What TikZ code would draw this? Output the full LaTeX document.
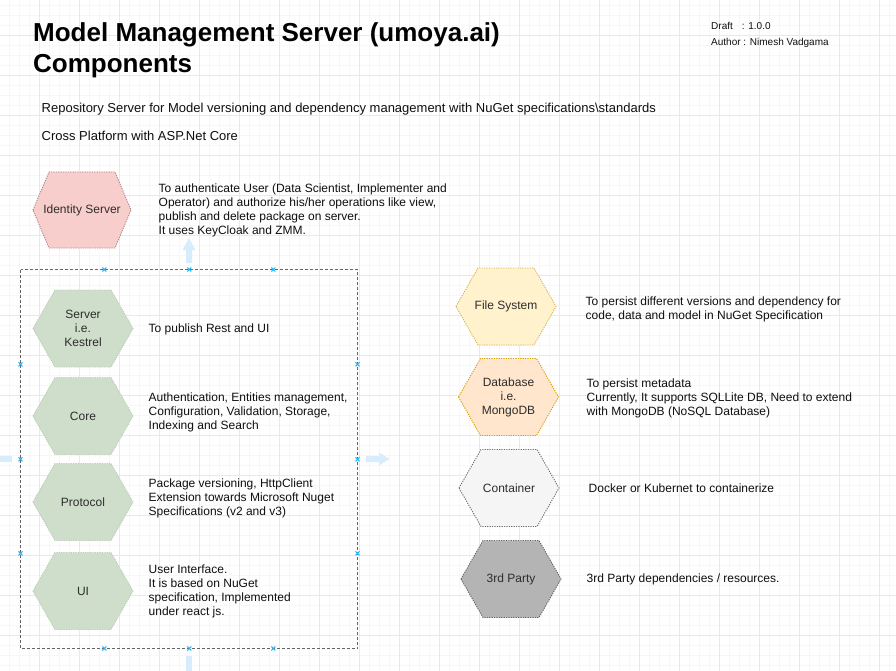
\documentclass[tikz,border=0pt]{standalone}
\usepackage{fontspec}
\setmainfont{Liberation Sans}
\definecolor{gridmajor}{RGB}{233,233,233}
\definecolor{gridminor}{RGB}{247,247,247}
\definecolor{labelgray}{RGB}{45,45,45}
\definecolor{desccol}{RGB}{15,15,15}
\definecolor{idfill}{RGB}{248,206,204}
\definecolor{idline}{RGB}{165,135,135}
\definecolor{grfill}{RGB}{207,221,203}
\definecolor{grline}{RGB}{188,204,184}
\definecolor{fsfill}{RGB}{255,242,204}
\definecolor{fsline}{RGB}{214,182,86}
\definecolor{dbfill}{RGB}{255,230,204}
\definecolor{dbline}{RGB}{215,155,0}
\definecolor{ctfill}{RGB}{245,245,245}
\definecolor{ctline}{RGB}{110,110,110}
\definecolor{tpfill}{RGB}{180,180,180}
\definecolor{tpline}{RGB}{100,100,100}
\definecolor{boxline}{RGB}{100,100,100}
\definecolor{handle}{RGB}{41,182,242}
\definecolor{hoverarrow}{RGB}{215,237,251}
\tikzset{
  hexlabel/.style={font=\fontsize{12}{14}\selectfont, text=labelgray, align=center, inner sep=0pt},
  desc/.style={font=\fontsize{12}{14}\selectfont, text=desccol, align=left, anchor=north west, inner sep=0pt},
  hexborder/.style={line width=0.9pt, dash pattern=on 1.2pt off 1.2pt},
  idhex/.style={hexborder, fill=idfill, draw=idline},
  grhex/.style={hexborder, fill=grfill, draw=grline},
  fshex/.style={hexborder, fill=fsfill, draw=fsline},
  dbhex/.style={hexborder, fill=dbfill, draw=dbline},
  cthex/.style={hexborder, fill=ctfill, draw=ctline},
  tphex/.style={hexborder, fill=tpfill, draw=tpline},
  groupbox/.style={draw=boxline, line width=0.8pt, dash pattern=on 3pt off 2pt},
  selmark/.style={draw=handle, line width=1pt},
  hover/.style={fill=hoverarrow, draw=none},
}
\newcommand{\hexa}[8]{%
  \draw[#7, shift={(#2,#3)}] (-#4,0) -- ({-#4+#6},-#5) -- ({#4-#6},-#5) -- (#4,0) -- ({#4-#6},#5) -- ({-#4+#6},#5) -- cycle;
  \node[hexlabel] (#1) at (#2,#3) {#8};}
\newcommand{\selmarkat}[2]{%
  \draw[selmark, shift={(#1,#2)}] (-2,-2) -- (2,2) (-2,2) -- (2,-2);}
\begin{document}
\begin{tikzpicture}[x=1pt,y=-1pt]
\useasboundingbox (0,0) rectangle (896,671);
\fill[white] (0,0) rectangle (896,671);
% grid
\foreach \gx in {9.5,19.5,...,895} \draw[gridminor, line width=0.7pt] (\gx,0) -- (\gx,671);
\foreach \gy in {5,15,...,670} \draw[gridminor, line width=0.7pt] (0,\gy) -- (896,\gy);
\foreach \gx in {39.5,79.5,...,895} \draw[gridmajor, line width=0.8pt] (\gx,0) -- (\gx,671);
\foreach \gy in {35,75,...,670} \draw[gridmajor, line width=0.8pt] (0,\gy) -- (896,\gy);

% title
\node[anchor=north west, inner sep=0pt, align=left, font=\fontsize{26}{31}\selectfont\bfseries] (title) at (33,22.7)
  {Model Management Server (umoya.ai)\\Components};
\node[anchor=north west, inner sep=0pt, align=left, font=\fontsize{10}{16}\selectfont, text=desccol] (draft) at (711,22.3)
  {Draft\hspace{9pt}: 1.0.0\\Author : Nimesh Vadgama};
\node[anchor=north west, inner sep=0pt, font=\fontsize{13}{15}\selectfont, text=desccol] (repo) at (41.5,102.8)
  {Repository Server for Model versioning and dependency management with NuGet specifications\textbackslash standards};
\node[anchor=north west, inner sep=0pt, font=\fontsize{13}{15}\selectfont, text=desccol] (cross) at (41.5,130.5)
  {Cross Platform with ASP.Net Core};

% hover arrows
\fill[hover] (186,263) -- (186,250) -- (182.5,250) -- (189,238) -- (195.5,250) -- (192,250) -- (192,263) -- cycle;
\fill[hover] (366,456) -- (379,456) -- (379,452.5) -- (389.5,459) -- (379,465.5) -- (379,462) -- (366,462) -- cycle;
\fill[hover] (186,656) rectangle (192,671);
\fill[hover] (0,456) rectangle (12,462);

% group box
\draw[groupbox] (20.5,269.5) rectangle (357.5,648.5);
\foreach \mx in {104.3,189.3,273.3} {\selmarkat{\mx}{269.5}\selmarkat{\mx}{648.5}}
\foreach \my in {364.3,459.3,553.3} {\selmarkat{20.5}{\my}\selmarkat{357.5}{\my}}

% hexagons
\hexa{identity}{82}{210}{49}{38}{16}{idhex}{Identity Server}
\hexa{server}{83}{328.5}{50}{38.5}{22}{grhex}{Server\\i.e.\\Kestrel}
\hexa{core}{83}{416}{50}{38.5}{22}{grhex}{Core}
\hexa{protocol}{83}{502}{50}{38.5}{22}{grhex}{Protocol}
\hexa{ui}{83}{591}{50}{38.5}{22}{grhex}{UI}
\hexa{filesys}{506}{306.5}{50}{38.5}{22}{fshex}{File System}
\hexa{database}{508.5}{397}{50}{38.5}{22}{dbhex}{Database\\i.e.\\MongoDB}
\hexa{container}{509}{488}{50}{38.5}{22}{cthex}{Container}
\hexa{thirdparty}{511}{579}{50}{38.5}{22}{tphex}{3rd Party}

% descriptions
\node[desc] (identitytxt) at (158.5,183.9) {To authenticate User (Data Scientist, Implementer and\\Operator) and authorize his/her operations like view,\\publish and delete package on server.\\It uses KeyCloak and ZMM.};
\node[desc] (servertxt) at (148.5,323.2) {To publish Rest and UI};
\node[desc] (coretxt) at (148.5,392.9) {Authentication, Entities management,\\Configuration, Validation, Storage,\\Indexing and Search};
\node[desc] (protocoltxt) at (148.5,478.9) {Package versioning, HttpClient\\Extension towards Microsoft Nuget\\Specifications (v2 and v3)};
\node[desc] (uitxt) at (148.5,564.9) {User Interface.\\It is based on NuGet\\specification, Implemented\\under react js.};
\node[desc] (filesystxt) at (585.5,296.3) {To persist different versions and dependency for\\code, data and model in NuGet Specification};
\node[desc] (databasetxt) at (586.5,378.3) {To persist metadata\\Currently, It supports SQLLite DB, Need to extend\\with MongoDB (NoSQL Database)};
\node[desc] (containertxt) at (588.5,483.3) {Docker or Kubernet to containerize};
\node[desc] (thirdpartytxt) at (586.5,573.9) {3rd Party dependencies / resources.};
\end{tikzpicture}
\end{document}
